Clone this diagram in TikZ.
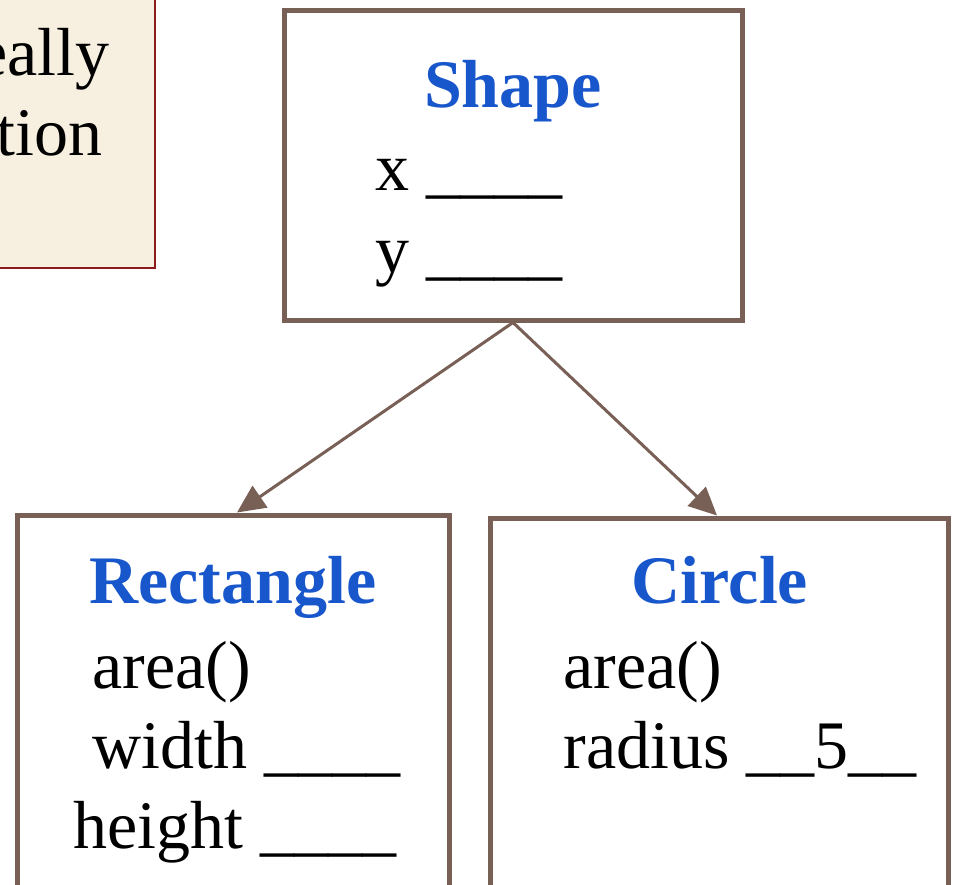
\documentclass[tikz,border=0pt]{standalone}
\usepackage{fontspec}
\setmainfont{Liberation Serif}
\usetikzlibrary{arrows.meta,positioning}

\definecolor{boxbrown}{RGB}{121,96,87}
\definecolor{titleblue}{RGB}{24,86,204}
\definecolor{notefill}{RGB}{247,239,224}
\definecolor{noteline}{RGB}{140,28,28}

\begin{document}
\begin{tikzpicture}[
  x=0.5pt,
  y=-0.5pt,
  font=\fontsize{34}{40}\selectfont,
  classbox/.style={draw=boxbrown, line width=2.5pt, fill=white, rectangle},
  inherit/.style={boxbrown, line width=1.5pt, -{Triangle[length=14pt,width=13pt]}},
  title/.style={anchor=base, font=\fontsize{34}{40}\selectfont\bfseries, text=titleblue},
  member/.style={anchor=base west, inner sep=0pt},
  every node/.style={inner sep=0pt}
]

  \clip (0,0) rectangle (955,885);
  \useasboundingbox (0,0) rectangle (955,885);

  % Note box, cut off at the left and top edges.
  \draw[fill=notefill, draw=noteline, line width=1pt] (-40,-40) rectangle (155,268);
  \node[anchor=base east] (note1) at (110,75) {eally};
  \node[anchor=base east] (note2) at (103,155) {tion};

  % Class boxes.
  \node[classbox, minimum width=229pt, minimum height=155pt] (shape) at (513,165) {};
  \node[classbox, minimum width=216pt, minimum height=242.5pt] (rect) at (233,757.5) {};
  \node[classbox, minimum width=229pt, minimum height=241pt] (circ) at (719,759) {};

  % Shape members.
  \node[title] (shapetitle) at (513,107) {Shape};
  \node[member] (shapex) at (375,190) {x \_\_\_\_};
  \node[member] (shapey) at (375,272) {y \_\_\_\_};

  % Rectangle members.
  \node[title] (recttitle) at (233,603) {Rectangle};
  \node[member] (rectarea) at (92,688) {area()};
  \node[member] (rectwidth) at (92,768) {width \_\_\_\_};
  \node[member] (rectheight) at (73,848) {height \_\_\_\_};

  % Circle members.
  \node[title] (circtitle) at (720,603) {Circle};
  \node[member] (circarea) at (563,688) {area()};
  \node[member] (circradius) at (563,768) {radius \_\_5\_\_};

  % Inheritance arrows.
  \draw[inherit] (shape.south) -- ([xshift=2pt]rect.north);
  \draw[inherit] (shape.south) -- ([xshift=-1pt]circ.north);

\end{tikzpicture}
\end{document}
